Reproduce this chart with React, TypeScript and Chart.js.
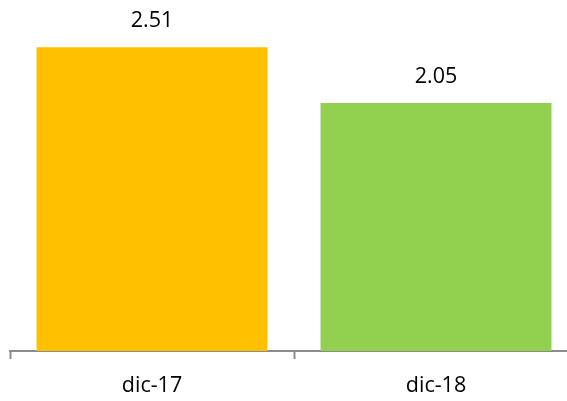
import React, { useEffect, useRef } from "react";
import { Chart, registerables } from "chart.js";

Chart.register(...registerables);

const categories = ["dic-17", "dic-18"];
const values = [2.51, 2.05];
const barColors = ["#FFC000", "#92D050"];
const FONT = "'Open Sans', sans-serif";

const valueLabels = {
  id: "valueLabels",
  afterDatasetsDraw(chart: any) {
    const ctx = chart.ctx;
    const meta = chart.getDatasetMeta(0);
    ctx.save();
    ctx.font = `21.5px ${FONT}`;
    ctx.fillStyle = "#000000";
    ctx.textAlign = "center";
    ctx.textBaseline = "alphabetic";
    meta.data.forEach((bar: any, i: number) => {
      ctx.fillText(values[i].toFixed(2), bar.x, bar.y - 20);
    });
    ctx.restore();
  },
};

export default function App() {
  const ref = useRef<HTMLCanvasElement>(null);
  useEffect(() => {
    if (!ref.current) return;
    const chart = new Chart(ref.current, {
      type: "bar",
      data: {
        labels: categories,
        datasets: [
          {
            data: values,
            backgroundColor: barColors,
            borderWidth: 0,
            categoryPercentage: 1,
            barPercentage: 0.813,
          },
        ],
      },
      options: {
        responsive: false,
        animation: false,
        devicePixelRatio: 1,
        layout: { padding: { left: 10, right: 0, top: 0, bottom: 0 } },
        plugins: { legend: { display: false }, tooltip: { enabled: false } },
        scales: {
          x: {
            grid: {
              display: true,
              drawOnChartArea: false,
              drawTicks: true,
              tickLength: 8,
              tickWidth: 2,
              color: "#8c8c8c",
              offset: true,
            },
            border: { display: true, color: "#8c8c8c", width: 2 },
            ticks: {
              padding: 14,
              color: "#000000",
              font: { family: FONT, size: 21.5 },
            },
            afterFit(scale: any) {
              scale.height = 50;
            },
          },
          y: { display: false, min: 0, max: 2.9 },
        },
      },
      plugins: [valueLabels],
    });
    return () => chart.destroy();
  }, []);
  return (
    <div
      style={{
        position: "fixed",
        left: 0,
        top: 0,
        width: 567,
        height: 401,
        overflow: "hidden",
        background: "#ffffff",
      }}
    >
      <canvas ref={ref} width={578} height={401} style={{ display: "block" }} />
    </div>
  );
}
